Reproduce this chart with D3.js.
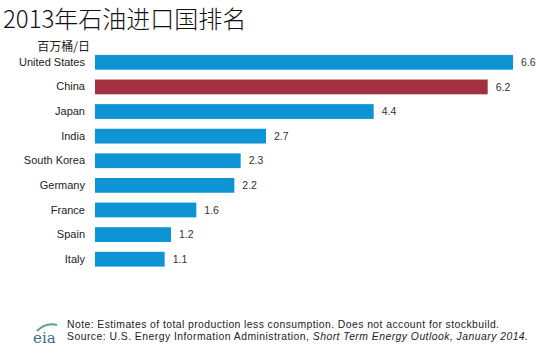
<!DOCTYPE html>
<html>
<head>
<meta charset="utf-8">
<script src="https://cdn.jsdelivr.net/npm/d3@7"></script>
<style>
  body { margin: 0; background: #fff; }
  text { font-family: "Liberation Sans", Arial, sans-serif; }
</style>
</head>
<body>
<svg id="chart" width="550" height="362"></svg>
<script>
// data
const countries = ["United States", "China", "Japan", "India", "South Korea", "Germany", "France", "Spain", "Italy"];
const imports = [6.6, 6.2, 4.4, 2.7, 2.3, 2.2, 1.6, 1.2, 1.1];
const highlight = ["China"];

const svg = d3.select("#chart");

var margin = {top: 50, left: 95},
    width = 418,
    height = 221.5;

var xScale = d3.scaleLinear()
  .domain([0, 6.6])
  .range([0, width]);

var yScale = d3.scaleBand()
  .domain(countries)
  .range([0, height])
  .paddingInner(0.4)
  .paddingOuter(0.2);

const g = svg.append("g")
  .attr("transform", "translate(" + margin.left + "," + margin.top + ")");

// title + unit
svg.append("text")
  .attr("x", 3).attr("y", 28)
  .style("font-family", "'Noto Sans CJK SC', sans-serif")
  .style("font-size", "24px")
  .style("font-weight", 300)
  .attr("fill", "#111")
  .text("2013年石油进口国排名");

svg.append("text")
  .attr("x", 90).attr("y", 51)
  .attr("text-anchor", "end")
  .style("font-family", "'Noto Sans CJK SC', sans-serif")
  .style("font-size", "12px")
  .attr("fill", "#222")
  .text("百万桶/日");

const data = countries.map((c, i) => ({name: c, value: imports[i]}));

g.selectAll(".bar")
  .data(data)
  .join("rect")
  .attr("class", "bar")
  .attr("x", 0)
  .attr("y", d => yScale(d.name))
  .attr("width", d => xScale(d.value))
  .attr("height", yScale.bandwidth())
  .attr("fill", d => highlight.includes(d.name) ? "#a2303f" : "#0e93d5");

g.selectAll(".val")
  .data(data)
  .join("text")
  .attr("class", "val")
  .attr("x", d => xScale(d.value) + 8)
  .attr("y", d => yScale(d.name) + yScale.bandwidth() / 2)
  .attr("dy", "0.35em")
  .style("font-size", "10.5px")
  .attr("fill", "#333")
  .text(d => d3.format(".1f")(d.value));

const yAxis = d3.axisLeft(yScale)
  .tickSize(0)
  .tickPadding(10);

g.append("g")
  .call(yAxis)
  .call(a => a.select(".domain").remove())
  .call(a => a.selectAll("text")
    .style("font-size", "11px")
    .style("font-family", "'Liberation Sans', Arial, sans-serif")
    .attr("fill", "#222"));

// footer
const foot = svg.append("g").attr("transform", "translate(67,328)");
foot.append("text")
  .style("font-size", "10.4px").attr("fill", "#222")
  .attr("textLength", 432).attr("lengthAdjust", "spacing")
  .text("Note: Estimates of total production less consumption. Does not account for stockbuild.");
const src = foot.append("text")
  .attr("y", 12)
  .attr("textLength", 461).attr("lengthAdjust", "spacing")
  .style("font-size", "10.4px").attr("fill", "#222");
src.append("tspan").text("Source: U.S. Energy Information  Administration, ");
src.append("tspan").style("font-style", "italic").text("Short Term Energy Outlook, January 2014.");

// eia logo
svg.append("path")
  .attr("d", "M37,331 Q46,322 57,325")
  .attr("fill", "none")
  .attr("stroke", "#5aa87a")
  .attr("stroke-width", 2.2);
svg.append("text")
  .attr("x", 33).attr("y", 343)
  .style("font-family", "'DejaVu Serif', serif")
  .style("font-size", "15px")
  .attr("fill", "#3a6f86")
  .text("eia");
</script>
</body>
</html>
